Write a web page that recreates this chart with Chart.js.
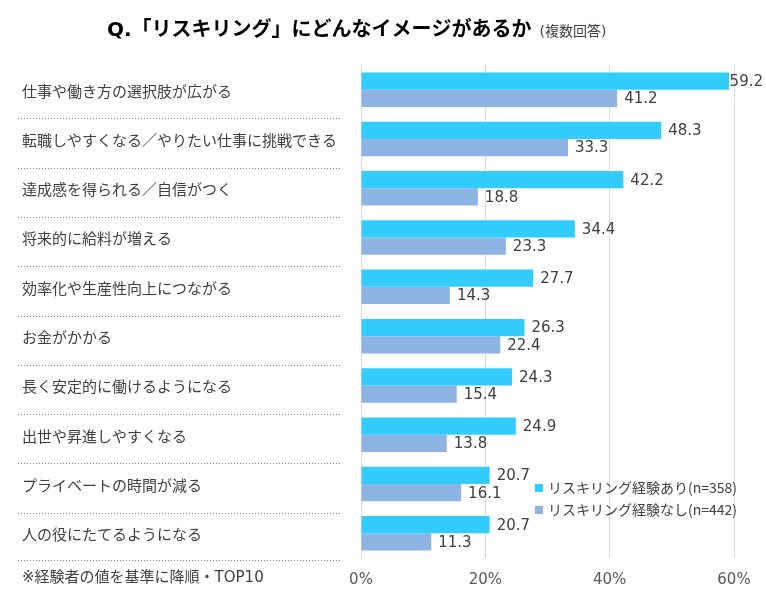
<!DOCTYPE html>
<html>
<head>
<meta charset="utf-8">
<script src="https://cdn.jsdelivr.net/npm/chart.js@4/dist/chart.umd.min.js"></script>
<style>
  html, body { margin: 0; padding: 0; background: #fff; }
  #wrap { width: 766px; height: 613px; position: relative; }
</style>
</head>
<body>
<div id="wrap"><canvas id="c"></canvas></div>
<script>
const FONT = '"DejaVu Sans", "Noto Sans CJK JP", sans-serif'
const FONT_JP = '"Noto Sans CJK JP", sans-serif'

const categories = [
    '仕事や働き方の選択肢が広がる',
    '転職しやすくなる／やりたい仕事に挑戦できる',
    '達成感を得られる／自信がつく',
    '将来的に給料が増える',
    '効率化や生産性向上につながる',
    'お金がかかる',
    '長く安定的に働けるようになる',
    '出世や昇進しやすくなる',
    'プライベートの時間が減る',
    '人の役にたてるようになる'
]

const experienced = [59.2, 48.3, 42.2, 34.4, 27.7, 26.3, 24.3, 24.9, 20.7, 20.7]
const notExperienced = [41.2, 33.3, 18.8, 23.3, 14.3, 22.4, 15.4, 13.8, 16.1, 11.3]

const seriesNames = ['リスキリング経験あり(n=358)', 'リスキリング経験なし(n=442)']
const tickValues = [0, 20, 40, 60]

const titleMain = 'Q.「リスキリング」にどんなイメージがあるか'
const titleSub = '(複数回答)'
const footnote = '※経験者の値を基準に降順・TOP10'

// title, separators, value labels, legend, footnote
const extras = {
    id: 'extras',
    afterDraw(chart) {
        const ctx = chart.ctx
        const y = chart.scales.y
        const area = chart.chartArea

        ctx.save()

        // title
        ctx.fillStyle = '#000'
        ctx.textBaseline = 'middle'
        ctx.textAlign = 'left'
        ctx.font = 'bold 20px ' + FONT
        ctx.fillText(titleMain, 107, 31)
        const tw = ctx.measureText(titleMain).width
        ctx.font = '14px ' + FONT
        ctx.fillStyle = '#404040'
        ctx.fillText(titleSub, 107 + tw + 8, 32)

        // dotted separators between rows
        ctx.strokeStyle = '#808080'
        ctx.lineWidth = 1
        ctx.setLineDash([1, 2])
        for (let i = 0; i < categories.length; i++) {
            let yy
            if (i < categories.length - 1) {
                yy = (y.getPixelForValue(i) + y.getPixelForValue(i + 1)) / 2 + 4
            } else {
                yy = area.bottom + 2
            }
            yy = Math.round(yy) + 0.5
            ctx.beginPath()
            ctx.moveTo(18, yy)
            ctx.lineTo(341, yy)
            ctx.stroke()
        }
        ctx.setLineDash([])

        // footnote
        ctx.fillStyle = '#404040'
        ctx.font = '15px ' + FONT
        ctx.fillText(footnote, 22, 578)

        // value labels
        ctx.font = '15px ' + FONT
        ctx.fillStyle = '#404040'
        chart.data.datasets.forEach((ds, di) => {
            chart.getDatasetMeta(di).data.forEach((bar, i) => {
                const txt = ds.data[i].toFixed(1)
                const w = ctx.measureText(txt).width
                const x = Math.min(bar.x + 7, chart.width - 3 - w)
                ctx.fillText(txt, x, bar.y + 1)
            })
        })

        // legend
        ctx.font = '14px ' + FONT_JP
        chart.data.datasets.forEach((ds, di) => {
            const ly = 488 + di * 22
            ctx.fillStyle = ds.backgroundColor
            ctx.fillRect(535, ly - 4, 8, 8)
            ctx.fillStyle = '#404040'
            ctx.fillText(ds.label, 548, ly)
        })

        ctx.restore()
    }
}

new Chart(
    document.getElementById('c'),
    {
        type: 'bar',

        data: {
            labels: categories,
            datasets: [
                {
                    label: seriesNames[0],
                    data: experienced,
                    backgroundColor: '#33CCFF',
                    categoryPercentage: 0.70,
                    barPercentage: 1
                },
                {
                    label: seriesNames[1],
                    data: notExperienced,
                    backgroundColor: '#8EB4E3',
                    categoryPercentage: 0.70,
                    barPercentage: 1
                }
            ]
        },

        options: {
            indexAxis: 'y',
            responsive: true,
            maintainAspectRatio: false,
            animation: false,
            layout: {
                padding: { top: 65, left: 22, right: 32, bottom: 0 }
            },
            plugins: {
                legend: { display: false },
                title: { display: false },
                tooltip: { enabled: false }
            },
            scales: {
                x: {
                    min: 0,
                    max: 60,
                    afterFit(scale) { scale.height = 55 },
                    afterBuildTicks(scale) {
                        scale.ticks = tickValues.map(v => ({ value: v }))
                    },
                    grid: {
                        color: '#D9D9D9',
                        drawTicks: false
                    },
                    border: { display: false },
                    ticks: {
                        padding: 13,
                        color: '#595959',
                        font: { family: FONT, size: 15 },
                        callback: v => v + '%'
                    }
                },
                y: {
                    afterFit(scale) { scale.width = 339 },
                    grid: { display: false },
                    border: { display: true, color: '#D9D9D9' },
                    ticks: {
                        crossAlign: 'far',
                        autoSkip: false,
                        labelOffset: 3,
                        color: '#404040',
                        font: { family: FONT, size: 15 }
                    }
                }
            }
        },

        plugins: [extras]
    }
)
</script>
</body>
</html>
